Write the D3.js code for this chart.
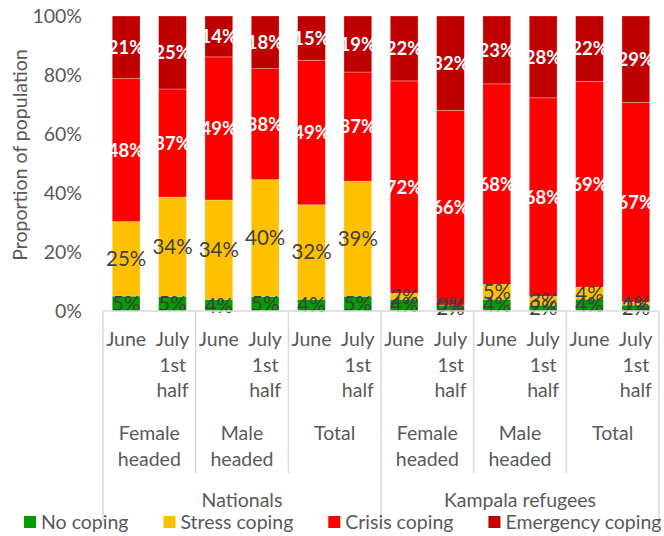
<!DOCTYPE html>
<html>
<head>
  <meta charset="utf-8">
  <title>Coping strategies</title>
  <script src="https://d3js.org/d3.v7.min.js"></script>
  <style>
    body { margin: 0; background: #fff; }
    text { font-family: Lato, "Open Sans", sans-serif; }
  </style>
</head>
<body>
  <div id="chart"></div>
  <script>
    // Data (percent of population)
    const series = ["No coping", "Stress coping", "Crisis coping", "Emergency coping"];
    const colors = ["#009E00", "#FFC000", "#FF0000", "#C00000"];
    const periods = [["June"], ["July", "1st", "half"]];
    const groups = [["Female", "headed"], ["Male", "headed"], ["Total"]];
    const populations = ["Nationals", "Kampala refugees"];

    const noCoping        = [5, 5, 4, 5, 4, 5, 4, 2, 4, 2, 4, 2];
    const stressCoping    = [25, 34, 34, 40, 32, 39, 2, 0, 5, 3, 4, 1];
    const crisisCoping    = [48, 37, 49, 38, 49, 37, 72, 66, 68, 68, 69, 67];
    const emergencyCoping = [21, 25, 14, 18, 15, 19, 22, 32, 23, 28, 22, 29];
    const yTicks = [0, 0.2, 0.4, 0.6, 0.8, 1];

    const values = [noCoping, stressCoping, crisisCoping, emergencyCoping];
    const nBars = noCoping.length;

    const W = 664, H = 536;
    const plotLeft = 103, plotRight = 659, plotTop = 16, plotBottom = 311;
    const fontSize = "19.5px";

    const svg = d3.select("#chart").append("svg")
      .attr("width", W)
      .attr("height", H);

    // 100% stacked: each bar is normalised by its own total
    const rows = d3.range(nBars).map(i => {
      const row = { i: i };
      const total = d3.sum(values, v => v[i]);
      series.forEach((s, k) => { row[s] = values[k][i] / total; });
      return row;
    });
    const stacked = d3.stack().keys(series)(rows);

    const x = d3.scaleBand()
      .domain(d3.range(nBars))
      .range([plotLeft, plotRight])
      .paddingInner(0.4)
      .paddingOuter(0.2);
    const y = d3.scaleLinear().domain([0, 1]).range([plotBottom, plotTop]);

    // y axis
    const yAxis = svg.append("g")
      .attr("transform", `translate(${plotLeft},0)`)
      .call(d3.axisLeft(y).tickValues(yTicks).tickFormat(d3.format(".0%")).tickSize(0).tickPadding(21));
    yAxis.select(".domain").remove();
    yAxis.selectAll("text")
      .attr("fill", "#595959")
      .style("font-size", fontSize)
      .style("font-family", "Lato, sans-serif");

    svg.append("text")
      .attr("transform", "translate(27,155) rotate(-90)")
      .attr("text-anchor", "middle")
      .attr("fill", "#595959")
      .style("font-size", fontSize)
      .text("Proportion of population");

    // bars
    const layer = svg.selectAll("g.layer")
      .data(stacked)
      .join("g")
        .attr("class", "layer")
        .attr("fill", (d, k) => colors[k]);

    layer.selectAll("rect")
      .data(d => d)
      .join("rect")
        .attr("x", d => x(d.data.i))
        .attr("y", d => y(d[1]))
        .attr("width", x.bandwidth())
        .attr("height", d => y(d[0]) - y(d[1]))
        .attr("stroke", "rgba(255,255,255,0.35)")
        .attr("stroke-width", 0.8);

    // data labels
    stacked.forEach((s, k) => {
      svg.append("g").selectAll("text")
        .data(s)
        .join("text")
          .attr("x", d => x(d.data.i) + x.bandwidth() / 2)
          .attr("y", d => (y(d[0]) + y(d[1])) / 2)
          .attr("dy", "0.36em")
          .attr("text-anchor", "middle")
          .attr("fill", k < 2 ? "#404040" : "#ffffff")
          .style("font-size", k < 2 ? "20.5px" : "18.5px")
          .style("font-weight", k < 2 ? "normal" : "bold")
          .text(d => values[k][d.data.i] + "%");
    });

    // multi-level category axis
    const axisColor = "#d9d9d9";
    const step = x.step();
    svg.append("line")
      .attr("x1", plotLeft).attr("x2", plotRight)
      .attr("y1", plotBottom).attr("y2", plotBottom)
      .attr("stroke", axisColor).attr("stroke-width", 1.5);

    const perGroup = periods.length;
    const perPop = groups.length * perGroup;
    const edge = i => plotLeft + i * step;

    for (let i = 0; i <= nBars; i += perGroup) {
      const outer = i % perPop === 0;
      svg.append("line")
        .attr("x1", edge(i)).attr("x2", edge(i))
        .attr("y1", plotBottom).attr("y2", outer ? 521 : 473)
        .attr("stroke", axisColor).attr("stroke-width", 1.5);
    }

    const labelStyle = sel => sel
      .attr("text-anchor", "middle")
      .attr("fill", "#595959")
      .style("font-size", fontSize);

    d3.range(nBars).forEach(i => {
      const lines = periods[i % perGroup];
      const t = svg.append("text")
        .attr("x", x(i) + x.bandwidth() / 2)
        .attr("y", 346)
        .call(labelStyle);
      lines.forEach((l, j) => t.append("tspan")
        .attr("x", x(i) + x.bandwidth() / 2)
        .attr("dy", j === 0 ? 0 : 25.5)
        .text(l));
    });

    d3.range(nBars / perGroup).forEach(g => {
      const cx = (edge(g * perGroup) + edge((g + 1) * perGroup)) / 2;
      const lines = groups[g % groups.length];
      const t = svg.append("text").attr("x", cx).attr("y", 440).call(labelStyle);
      lines.forEach((l, j) => t.append("tspan")
        .attr("x", cx)
        .attr("dy", j === 0 ? 0 : 26)
        .text(l));
    });

    populations.forEach((p, pi) => {
      const cx = (edge(pi * perPop) + edge((pi + 1) * perPop)) / 2;
      svg.append("text").attr("x", cx).attr("y", 507).call(labelStyle).text(p);
    });

    // legend
    let lx = 24;
    series.forEach((s, k) => {
      svg.append("rect")
        .attr("x", lx).attr("y", 516)
        .attr("width", 12).attr("height", 12)
        .attr("fill", colors[k]);
      const t = svg.append("text")
        .attr("x", lx + 17).attr("y", 529)
        .attr("fill", "#595959")
        .style("font-size", fontSize)
        .text(s);
      lx += 17 + t.node().getComputedTextLength() + 35;
    });
  </script>
</body>
</html>
